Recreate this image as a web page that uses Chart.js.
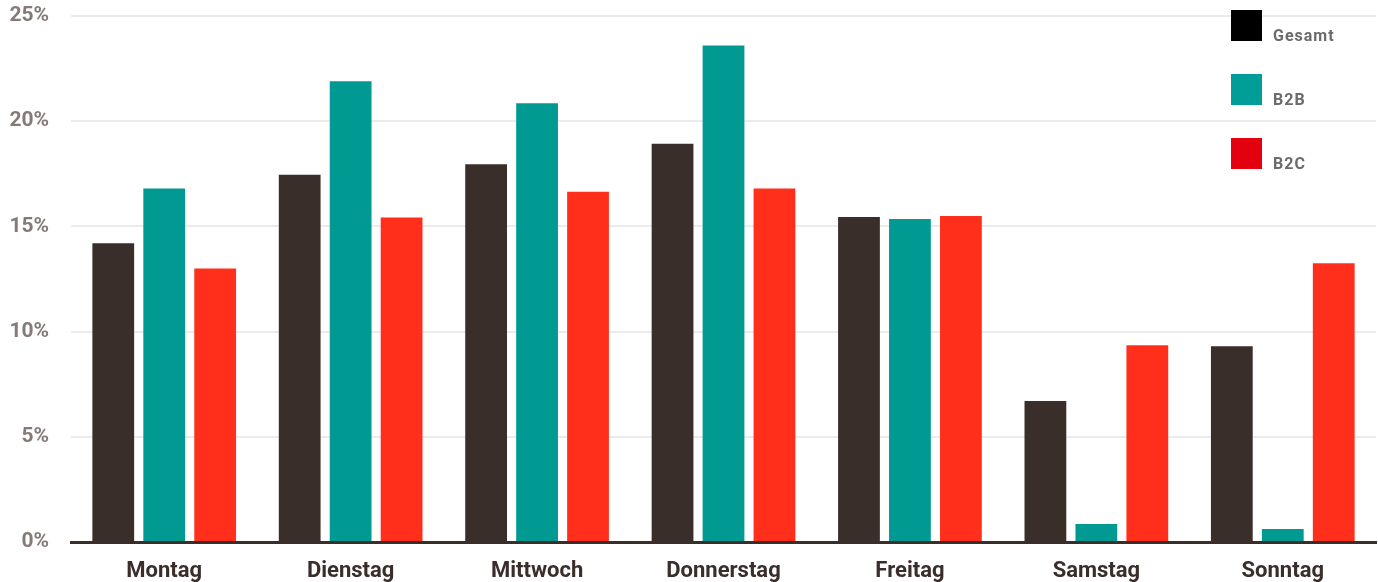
<!DOCTYPE html>
<html lang="de">
<head>
<meta charset="utf-8">
<title>Wochentage</title>
<script src="https://cdn.jsdelivr.net/npm/chart.js@4/dist/chart.umd.min.js"></script>
<style>
    html, body { margin: 0; padding: 0; background: #fff; }
    #wrap { width: 1378px; height: 582px; position: relative; }
</style>
</head>
<body>
<div id="wrap"><canvas id="dayChart"></canvas></div>
<script>
const days = ['Montag', 'Dienstag', 'Mittwoch', 'Donnerstag', 'Freitag', 'Samstag', 'Sonntag'];
const gesamt = [14.2, 17.45, 17.95, 18.93, 15.45, 6.7, 9.3];
const b2b = [16.8, 21.9, 20.85, 23.6, 15.35, 0.85, 0.62];
const b2c = [13.0, 15.42, 16.65, 16.8, 15.5, 9.35, 13.25];
const yTicks = [0, 5, 10, 15, 20, 25];

const seriesNames = ['Gesamt', 'B2B', 'B2C'];
const barColors = ['#3a2e2b', '#009a93', '#ff2f1c'];
const legendColors = ['#000000', '#009e96', '#e3000f'];

// legend sits on top of the plot, top right corner
const cornerLegend = {
    id: 'cornerLegend',
    afterDraw(chart) {
        const ctx = chart.ctx;
        ctx.save();
        ctx.font = 'bold 16px Roboto';
        ctx.letterSpacing = '1px';
        ctx.textBaseline = 'alphabetic';
        ctx.textAlign = 'left';
        chart.data.datasets.forEach((ds, i) => {
            const top = 10 + i * 64;
            ctx.fillStyle = legendColors[i];
            ctx.fillRect(1231, top, 31, 31);
            ctx.fillStyle = '#6b6b6b';
            ctx.fillText(ds.label, 1273, top + 31);
        });
        ctx.restore();
    },
};

const el = document.getElementById('dayChart');
new Chart(el, {
    type: 'bar',
    data: {
        labels: days,
        datasets: [gesamt, b2b, b2c].map((values, i) => ({
            label: seriesNames[i],
            data: values,
            backgroundColor: barColors[i],
            categoryPercentage: 0.82,
            barPercentage: 0.82,
        })),
    },
    options: {
        responsive: true,
        maintainAspectRatio: false,
        animation: false,
        layout: { padding: { top: 16, left: 0, right: 2, bottom: 0 } },
        plugins: {
            legend: { display: false },
            tooltip: { enabled: false },
        },
        scales: {
            x: {
                grid: { display: false, drawTicks: false },
                border: { color: '#3a2e2b', width: 3 },
                afterFit: (axis) => { axis.height = 40; },
                ticks: {
                    color: '#3a2e2b',
                    padding: 18,
                    font: { family: 'Roboto', size: 22, weight: 'bold', lineHeight: 1 },
                },
            },
            y: {
                min: 0,
                max: 25,
                afterBuildTicks: (axis) => {
                    axis.ticks = yTicks.map((v) => ({ value: v }));
                },
                afterFit: (axis) => {
                    axis.width = 71;
                    axis.paddingTop = 0;
                    axis.paddingBottom = 0;
                },
                border: { display: false },
                grid: { color: '#ebebeb', lineWidth: 2, drawTicks: false },
                ticks: {
                    color: '#857a78',
                    padding: 22,
                    font: { family: 'Roboto', size: 21, weight: 'bold' },
                    callback: (v) => v + '%',
                },
            },
        },
    },
    plugins: [cornerLegend],
});
</script>
</body>
</html>
